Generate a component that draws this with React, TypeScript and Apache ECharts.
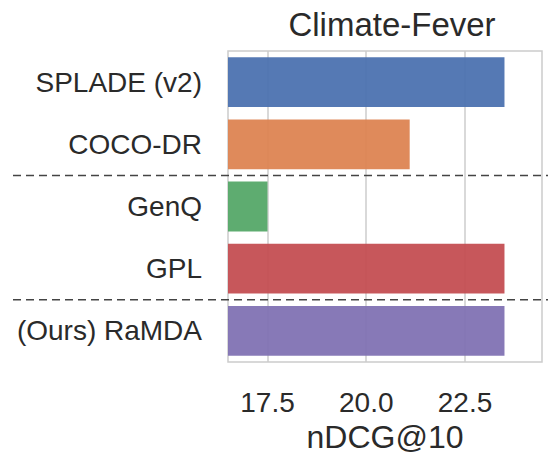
import React, { useEffect, useRef } from "react";
import * as echarts from "echarts";

const categories = ["SPLADE (v2)", "COCO-DR", "GenQ", "GPL", "(Ours) RaMDA"];
const values = [23.5, 21.1, 17.5, 23.5, 23.5];
const colors = ["#4C72B0", "#DD8452", "#55A868", "#C44E52", "#8172B3"];
const tickValues = [17.5, 20.0, 22.5];
const groupBreaksAfter = [1, 3];
const title = "Climate-Fever";
const xName = "nDCG@10";

const FONT = "'Liberation Sans', Arial, Helvetica, sans-serif";
const TEXT = "#2a2a2a";

export default function App() {
  const ref = useRef<HTMLDivElement>(null);
  useEffect(() => {
    if (!ref.current) return;
    const chart = echarts.init(ref.current, undefined, { renderer: "svg" });
    const option: any = {
      animation: false,
      backgroundColor: "#ffffff",
      title: {
        text: title,
        left: 387,
        top: 3,
        textAlign: "center",
        textStyle: { fontFamily: FONT, fontSize: 33, fontWeight: "normal", color: TEXT },
      },
      grid: {
        left: 228,
        right: 6,
        top: 51,
        bottom: 103,
        show: true,
        borderColor: "#cccccc",
        borderWidth: 1.5,
        backgroundColor: "transparent",
      },
      xAxis: {
        type: "value",
        min: 16.5,
        max: 24.45,
        axisLine: { show: false },
        axisTick: { show: false, customValues: tickValues },
        axisLabel: {
          customValues: tickValues,
          formatter: (v: number) => v.toFixed(1),
          fontFamily: FONT,
          fontSize: 28,
          color: TEXT,
          margin: 26,
        },
        splitLine: { show: true, lineStyle: { color: "#cccccc", width: 1.5 } },
        name: xName,
        nameLocation: "middle",
        nameGap: 57,
        nameTextStyle: { fontFamily: FONT, fontSize: 32, color: TEXT },
      },
      yAxis: {
        type: "category",
        data: categories,
        inverse: true,
        axisLine: { show: false },
        axisTick: { show: false },
        splitLine: { show: false },
        axisLabel: { fontFamily: FONT, fontSize: 28, color: TEXT, margin: 26 },
      },
      series: [
        {
          type: "bar",
          data: values.map((v, i) => ({ value: v, itemStyle: { color: colors[i] } })),
          barCategoryGap: "20%",
          itemStyle: { opacity: 0.95 },
        },
      ],
    };
    chart.setOption(option);
    const lines = groupBreaksAfter.map((idx) => {
      const a = chart.convertToPixel({ yAxisIndex: 0 }, idx) as number;
      const b = chart.convertToPixel({ yAxisIndex: 0 }, idx + 1) as number;
      const y = (a + b) / 2;
      return {
        type: "line",
        z: 100,
        shape: { x1: 13, y1: y, x2: 548, y2: y },
        style: { stroke: "#444444", lineWidth: 1.5, lineDash: [8, 5] },
      };
    });
    chart.setOption({ graphic: lines });
    return () => chart.dispose();
  }, []);
  return (
    <div
      ref={ref}
      style={{ position: "fixed", left: 0, top: 0, width: 548, height: 465 }}
    />
  );
}
